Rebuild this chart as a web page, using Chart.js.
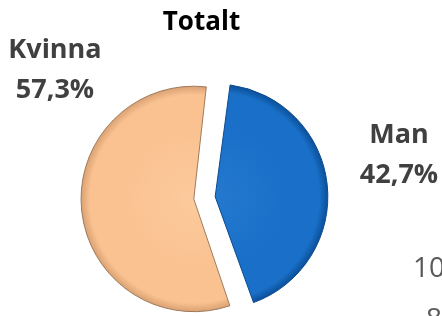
<!DOCTYPE html>
<html>
<head>
<meta charset="utf-8">
<script src="https://cdn.jsdelivr.net/npm/chart.js@4.4.1/dist/chart.umd.min.js"></script>
<style>
  html, body { margin: 0; padding: 0; background: #fff; }
</style>
</head>
<body>
<canvas id="pie" width="442" height="316"></canvas>
<script>
const categories = ['Man', 'Kvinna'];
const shares = [42.7, 57.3];
const sideTicks = ['100%', '80%'];

const PIE_RADIUS = 105;
const fills = [
  { light: '#2479CE', base: '#1A70C8', rim: '#0A4E98' },
  { light: '#FCCA9C', base: '#FAC291', rim: '#D9A071' }
];

const pct = v => v.toFixed(1).replace('.', ',') + '%';

// fake the bevelled Excel look with a radial gradient per slice
function sliceFill(ctx) {
  const chart = ctx.chart;
  const area = chart.chartArea;
  const f = fills[ctx.dataIndex];
  if (!area) return f.base;
  const cx = (area.left + area.right) / 2;
  const cy = (area.top + area.bottom) / 2;
  const r = PIE_RADIUS + 8;
  const g = chart.ctx.createRadialGradient(cx, cy, 0, cx, cy, r);
  g.addColorStop(0, f.light);
  g.addColorStop(0.6, f.base);
  g.addColorStop(0.92, f.base);
  g.addColorStop(1, f.rim);
  return g;
}

const sliceLabels = {
  id: 'sliceLabels',
  afterDatasetsDraw(chart, args, opts) {
    const c = chart.ctx;
    const arc = chart.getDatasetMeta(0).data[0];
    c.save();
    c.font = 'bold 27px "Open Sans"';
    c.fillStyle = '#404040';
    c.textAlign = 'center';
    categories.forEach((name, i) => {
      const [dx, dy] = opts.anchors[i];
      c.fillText(name, arc.x + dx, arc.y + dy);
      c.fillText(pct(shares[i]), arc.x + dx, arc.y + dy + opts.lineGap);
    });
    // tick labels of the neighbouring chart, cut by the edge
    c.font = '28px "Open Sans"';
    c.fillStyle = '#595959';
    c.textAlign = 'left';
    sideTicks.forEach((t, i) => {
      const [x, y] = opts.tickPos[i];
      c.fillText(t, x, y);
    });
    c.restore();
  }
};

new Chart(document.getElementById('pie'), {
  type: 'pie',
  data: {
    labels: categories,
    datasets: [{
      data: shares,
      backgroundColor: sliceFill,
      borderColor: ['#0B4A8E', '#9E7B5E'],
      borderWidth: 1,
      offset: [55, 31]
    }]
  },
  options: {
    responsive: false,
    animation: false,
    rotation: 7,
    radius: PIE_RADIUS,
    layout: { padding: { left: 0, right: 39, top: 0, bottom: 0 } },
    plugins: {
      legend: { display: false },
      tooltip: { enabled: false },
      title: {
        display: true,
        text: 'Totalt',
        color: '#000',
        font: { family: 'Open Sans', size: 26, weight: 'bold', lineHeight: 1.2 },
        padding: { top: 7, bottom: 42 }
      },
      sliceLabels: {
        anchors: [[197.5, -55], [-146.5, -140]],
        lineGap: 40,
        tickPos: [[413, 277], [426, 328]]
      }
    }
  },
  plugins: [sliceLabels]
});
</script>
</body>
</html>
